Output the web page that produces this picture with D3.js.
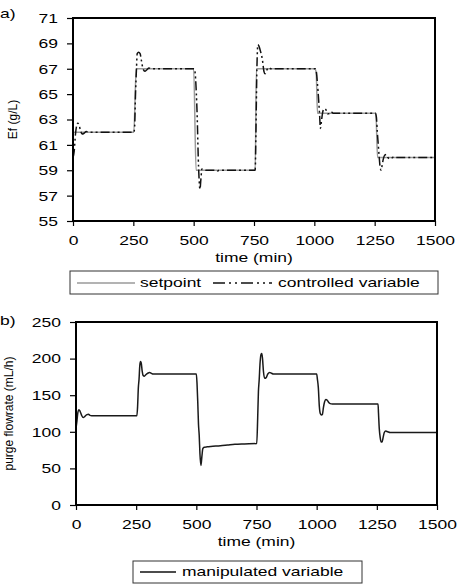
<!DOCTYPE html>
<html>
<head>
<meta charset="utf-8">
<script src="https://cdn.jsdelivr.net/npm/d3@7/dist/d3.min.js"></script>
<style>
  html, body { margin: 0; padding: 0; background: #fff; }
  svg { display: block; font-family: "Liberation Sans", Arial, sans-serif; }
</style>
</head>
<body>
<svg id="chart" width="457" height="587"></svg>
<script>
// ---------- DATA ----------
const xTicks = [0, 250, 500, 750, 1000, 1250, 1500];
const yTicksA = [55, 57, 59, 61, 63, 65, 67, 69, 71];
const yTicksB = [0, 50, 100, 150, 200, 250];

// setpoint (time, Ef g/L)
const setpoint = [
  [0,62],[252,62],[262,67],[500,67],[510,59],[755,59],[760,67],[1003,67],[1008,66.6],
  [1013,63.5],[1255,63.5],[1262,60],[1500,60]
];
// controlled variable (time, Ef g/L)
const controlled = [
  [0,60],[5,60.5],[10,61.8],[15,62.5],[20,62.7],[25,62.6],[30,62.2],[38,61.85],[45,61.9],
  [55,62.05],[65,62],[252,62],[255,62.3],[259,65],[263,67],[266,68.2],[272,68.3],[278,68.2],
  [283,67.7],[290,67],[298,66.8],[305,66.9],[315,67.05],[325,67],[502,67],[506,66.7],
  [510,65.5],[515,63],[519,60],[522,58.5],[526,57.5],[530,58.3],[534,59.1],[540,59.05],
  [550,59],[595,59],[600,58.95],[605,59],[755,59],[758,62],[762,67],[766,68.9],[770,68.8],
  [778,68.3],[785,67.7],[791,66.8],[796,66.6],[803,66.9],[812,67.1],[820,67],[1003,67],
  [1008,66.8],[1013,65.8],[1018,64.5],[1022,63.3],[1025,62.3],[1029,62.8],[1034,63.5],
  [1040,63.85],[1047,63.8],[1055,63.45],[1062,63.45],[1070,63.6],[1078,63.5],[1253,63.5],
  [1257,63.2],[1261,62],[1265,61],[1269,60],[1273,59.2],[1277,59],[1281,59.4],[1286,59.9],
  [1292,60.2],[1298,60.25],[1305,60],[1312,59.9],[1320,59.95],[1330,60.05],[1340,60],[1500,60]
];
// manipulated variable (time, purge flowrate mL/h)
const manipulated = [
  [0,105],[4,115],[8,127],[12,130],[17,128],[24,122],[30,119.5],[37,121],[45,123.5],[52,124],
  [58,122.5],[65,122],[253,122],[256,135],[259,160],[262,172],[265,190],[268,196],[271,194],
  [275,183],[279,177],[284,176],[290,178],[298,180],[306,181],[315,179.5],[320,179],[500,179],
  [503,165],[506,140],[509,110],[512,95],[515,70],[519,54],[523,66],[527,77],[533,79],
  [545,79.5],[560,80],[600,81],[630,82],[660,83],[700,83.5],[751,84],[755,120],[758,155],
  [761,170],[765,195],[769,206],[772,207],[775,200],[779,182],[784,173],[790,174],[797,179],
  [805,181],[812,180],[820,179],[1000,179],[1003,172],[1007,160],[1011,135],[1015,125],
  [1020,123],[1024,124],[1028,133],[1033,141],[1038,144],[1044,143],[1050,140],[1056,138.5],
  [1065,138],[1255,138],[1257,125],[1260,105],[1264,92],[1268,86],[1272,86],[1276,92],
  [1281,99],[1287,101],[1295,100],[1305,99],[1335,99],[1500,99]
];

// ---------- DRAWING ----------
const svg = d3.select("#chart");
const FONT = 12.5, SX = 1.4;

function wide(sel, x, y, anchor) {
  return sel.attr("transform", `translate(${x},${y}) scale(${SX},1)`)
    .attr("text-anchor", anchor || "start")
    .style("font-size", FONT + "px").attr("fill", "#000");
}

function panel(cfg) {
  const x = d3.scaleLinear().domain([0, 1500]).range([cfg.left, cfg.right]);
  const y = d3.scaleLinear().domain(cfg.yDomain).range([cfg.bottom, cfg.top]);
  const g = svg.append("g");

  // axes
  const ya = g.append("g").attr("transform", `translate(${cfg.left},0)`)
    .call(d3.axisLeft(y).tickValues(cfg.yTicks).tickSize(6).tickFormat(d3.format("d")));
  ya.select(".domain").remove();
  ya.selectAll(".tick line").attr("stroke", "#000").attr("stroke-width", 1.2);
  ya.selectAll(".tick text").attr("x", null).attr("dy", "0.35em")
    .attr("transform", `translate(-15,0) scale(${SX},1)`)
    .style("font-size", FONT + "px").style("font-family", "inherit").attr("fill", "#000");

  const xa = g.append("g").attr("transform", `translate(0,${cfg.bottom})`)
    .call(d3.axisBottom(x).tickValues(xTicks).tickSize(5).tickFormat(d3.format("d")));
  xa.select(".domain").remove();
  xa.selectAll(".tick line").attr("stroke", "#000").attr("stroke-width", 1.2);
  xa.selectAll(".tick text").attr("y", null).attr("dy", null)
    .attr("transform", `translate(0,24) scale(${SX},1)`)
    .style("font-size", FONT + "px").style("font-family", "inherit").attr("fill", "#000");

  // lines
  const line = d3.line().x(d => x(d[0])).y(d => y(d[1])).curve(d3.curveMonotoneX);
  cfg.series.forEach(s => {
    g.append("path").datum(s.data).attr("d", line).attr("fill", "none")
      .attr("stroke", s.color).attr("stroke-width", s.width)
      .attr("stroke-dasharray", s.dash || null).attr("stroke-linejoin", "round");
  });

  // frame
  g.append("rect").attr("x", cfg.left).attr("y", cfg.top)
    .attr("width", cfg.right - cfg.left).attr("height", cfg.bottom - cfg.top)
    .attr("fill", "none").attr("stroke", "#000").attr("stroke-width", 2);

  // labels
  wide(g.append("text").text(cfg.tag), 0, cfg.tagY);
  wide(g.append("text").text("time (min)"), (cfg.left + cfg.right) / 2, cfg.bottom + 41, "middle");
  g.append("text").text(cfg.yLabel)
    .attr("transform", `translate(${cfg.yLabelX},${(cfg.top + cfg.bottom) / 2}) rotate(-90)`)
    .attr("text-anchor", "middle").style("font-size", "12px").attr("fill", "#000");
  return { x, y, g };
}

const DASH = "9,3,2,3,2,3";

panel({
  left: 73, right: 435, top: 18, bottom: 221, yDomain: [55, 71], yTicks: yTicksA,
  tag: "a)", tagY: 18, yLabel: "Ef (g/L)", yLabelX: 17,
  series: [
    { data: setpoint, color: "#9a9a9a", width: 1.5 },
    { data: controlled, color: "#111", width: 1.5, dash: DASH }
  ]
});

panel({
  left: 76, right: 437, top: 322, bottom: 505, yDomain: [0, 250], yTicks: yTicksB,
  tag: "b)", tagY: 325, yLabel: "purge flowrate (mL/h)", yLabelX: 13,
  series: [
    { data: manipulated, color: "#1a1a1a", width: 1.5 }
  ]
});

// legends
const lgA = svg.append("g");
lgA.append("rect").attr("x", 70).attr("y", 271).attr("width", 368).attr("height", 23)
  .attr("fill", "#fff").attr("stroke", "#333").attr("stroke-width", 1);
lgA.append("line").attr("x1", 77).attr("x2", 135).attr("y1", 283).attr("y2", 283)
  .attr("stroke", "#9a9a9a").attr("stroke-width", 1.5);
wide(lgA.append("text").text("setpoint"), 140, 287);
lgA.append("line").attr("x1", 213).attr("x2", 272).attr("y1", 283).attr("y2", 283)
  .attr("stroke", "#111").attr("stroke-width", 1.5).attr("stroke-dasharray", "12,4,2,4,2,4");
wide(lgA.append("text").text("controlled variable"), 278, 287);

const lgB = svg.append("g");
lgB.append("rect").attr("x", 133).attr("y", 561).attr("width", 229).attr("height", 22)
  .attr("fill", "#fff").attr("stroke", "#333").attr("stroke-width", 1);
lgB.append("line").attr("x1", 140).attr("x2", 176).attr("y1", 572).attr("y2", 572)
  .attr("stroke", "#111").attr("stroke-width", 1.5);
wide(lgB.append("text").text("manipulated variable"), 182, 576);
</script>
</body>
</html>
